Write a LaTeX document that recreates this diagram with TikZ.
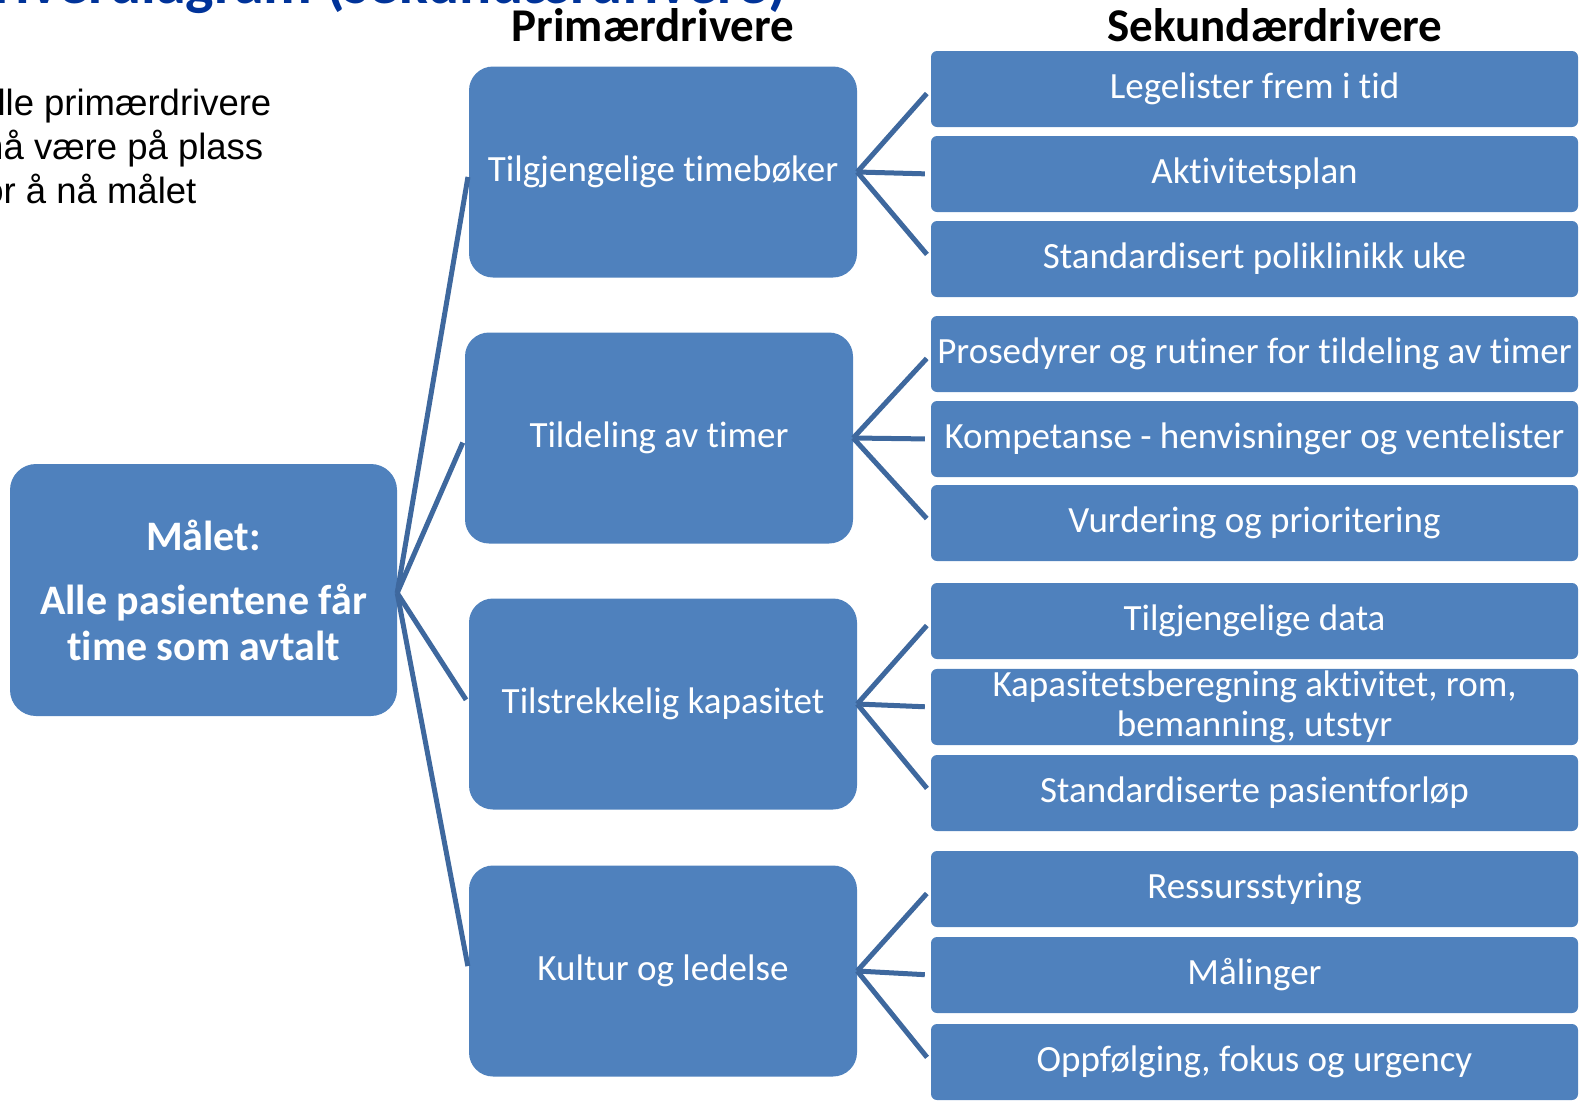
\documentclass[tikz,border=0pt]{standalone}
\usepackage{fontspec}
\setmainfont{Carlito}[Ligatures={NoRequired,NoCommon,NoContextual},RawFeature={-liga;-clig;-calt}]
\newfontfamily\arialfont{Liberation Sans}
\definecolor{boxblue}{RGB}{79,129,189}
\definecolor{lineblue}{RGB}{62,104,158}
\definecolor{titleblue}{RGB}{0,51,153}

\begin{document}
\begin{tikzpicture}[x=1pt,y=-1pt,
  goal/.style={fill=boxblue,rounded corners=26pt,minimum width=387pt,minimum height=252pt,text=white,align=center,font=\fontsize{42}{46}\selectfont\bfseries},
  primary/.style={fill=boxblue,rounded corners=24pt,minimum width=388pt,minimum height=211pt,text=white,font=\fontsize{37}{40}\selectfont},
  secondary/.style={fill=boxblue,rounded corners=6pt,minimum width=647pt,minimum height=76pt,inner sep=2pt,text=white,align=center,font=\fontsize{37}{40}\selectfont},
  header/.style={anchor=base,font=\fontsize{47}{50}\selectfont\bfseries},
  link/.style={draw=lineblue,line width=5pt}]
\useasboundingbox (0,0) rectangle (1583,1101);

% title, cut off at the top
\node[anchor=base east,inner sep=0pt,text=titleblue,font=\fontsize{60}{64}\selectfont\bfseries] (title) at (787,3) {Driverdiagram (sekundærdrivere)};
\node[anchor=base west,inner sep=0pt,align=left,font=\arialfont\fontsize{36.5}{44}\selectfont] (note) at (-27,203) {Alle primærdrivere\\må være på plass\\for å nå målet};

\node[header] (prim) at (653,41) {Primærdrivere};
\node[header] (sek) at (1275,41) {Sekundærdrivere};

\node[goal] (goal) at (203.5,590) {Målet:\\[18pt]Alle pasientene får\\time som avtalt};

\foreach \x/\y/\txt [count=\i] in {663/172/Tilgjengelige timebøker,659/438/Tildeling av timer,663/704/Tilstrekkelig kapasitet,663/971/Kultur og ledelse} {
  \node[primary] (P\i) at (\x,\y) {\txt};
}
\foreach \y/\txt [count=\i] in {89/Legelister frem i tid,174/Aktivitetsplan,259/Standardisert poliklinikk uke,
  354/Prosedyrer og rutiner for tildeling av timer,439/Kompetanse - henvisninger og ventelister,523/Vurdering og prioritering,
  621/Tilgjengelige data,707/{Kapasitetsberegning aktivitet, rom,\\bemanning, utstyr},793/Standardiserte pasientforløp,
  889/Ressursstyring,975/Målinger,1062/{Oppfølging, fokus og urgency}} {
  \node[secondary] (S\i) at (1254.5,\y) {\txt};
}

\foreach \i in {1,...,4} {
  \draw[link,shorten >=5pt] ([yshift=-3pt]goal.east) -- (P\i.west);
}
\foreach \p/\s in {1/1,1/2,1/3,2/4,2/5,2/6,3/7,3/8,3/9,4/10,4/11,4/12} {
  \draw[link,shorten >=6pt] (P\p.east) -- (S\s.west);
}
\end{tikzpicture}
\end{document}
